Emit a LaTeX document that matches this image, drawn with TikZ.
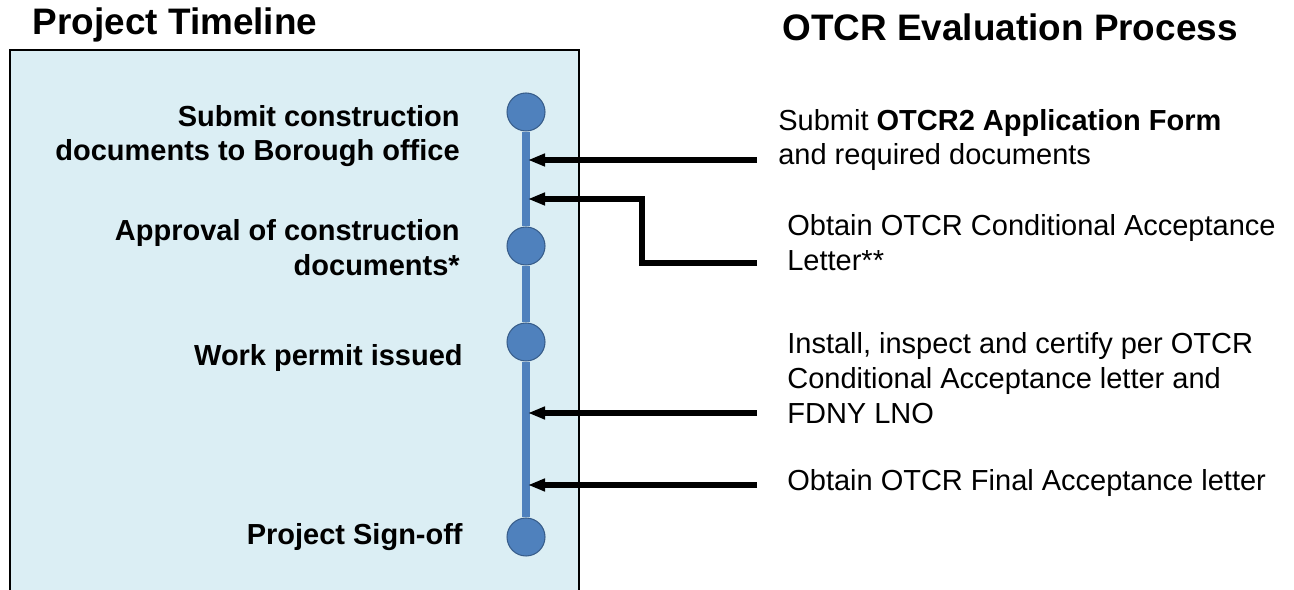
\documentclass[tikz,border=0pt]{standalone}
\usepackage{fontspec}
\setmainfont{Liberation Sans}
\usetikzlibrary{arrows.meta, positioning}
\definecolor{panelblue}{RGB}{219, 238, 244}
\definecolor{lineblue}{RGB}{79, 129, 189}
\definecolor{darkblue}{RGB}{56, 93, 138}

\begin{document}
\begin{tikzpicture}[
    x=0.02cm, y=-0.02cm,
    title/.style={font=\fontsize{21}{25}\selectfont\bfseries, inner sep=0pt},
    milestone/.style={font=\fontsize{16.5}{19.8}\selectfont\bfseries, align=right,
                anchor=east, inner sep=0pt},
    stagetext/.style={font=\fontsize{16.5}{19.8}\selectfont, align=left,
                anchor=west, inner sep=0pt},
    dot/.style={circle, fill=lineblue, draw=darkblue, line width=0.6pt,
                minimum size=0.76cm, inner sep=0pt},
    spine/.style={lineblue, line width=4.5pt},
    arrow/.style={-{Triangle[length=3.4mm, width=2.4mm]}, line width=3.3pt, black}
]
\useasboundingbox (0,0) rectangle (1294,590);

% timeline panel
\fill[panelblue] (10,50) rectangle (579,590);
\draw[line width=1.1pt] (10,590) -- (10,50) -- (579,50) -- (579,590);

\node[title] (lefttitle) at (175,25) {Project Timeline};
\node[title] (righttitle) at (1010,27) {OTCR Evaluation Process};

% milestones
\node[dot] (dsubmit) at (526,112) {};
\node[dot] (dapproval) at (526,246) {};
\node[dot] (dpermit) at (526,342) {};
\node[dot] (dsignoff) at (526,537) {};
\draw[spine] (dsubmit) -- (dapproval);
\draw[spine] (dapproval) -- (dpermit);
\draw[spine] (dpermit) -- (dsignoff);

\node[milestone] (submit) at (460,136) {Submit construction\\documents to Borough office};
\node[milestone] (approval) at (460,248) {Approval of construction\\documents*};
\node[milestone] (permit) at (463,358) {Work permit issued};
\node[milestone] (signoff) at (463,537) {Project Sign-off};

% OTCR steps
\node[stagetext] (form) at (778,140) {Submit \textbf{OTCR2 Application Form}\\and required documents};
\node[stagetext] (condacc) at (787,243) {Obtain OTCR Conditional Acceptance\\Letter**};
\node[stagetext] (install) at (787,378) {Install, inspect and certify per OTCR\\Conditional Acceptance letter and\\FDNY LNO};
\node[stagetext] (finalacc) at (787,483) {Obtain OTCR Final Acceptance letter};

\coordinate (s1) at (757,160);
\coordinate (s2) at (757,263);
\coordinate (s3) at (757,413);
\coordinate (s4) at (757,485);
\coordinate (t1) at (528,160);
\coordinate (t2) at (528,199);
\coordinate (t3) at (528,413);
\coordinate (t4) at (528,485);

\draw[arrow] (s1) -- (t1);
\draw[arrow] (s2) -- ++(-115,0) |- (t2);
\draw[arrow] (s3) -- (t3);
\draw[arrow] (s4) -- (t4);
\end{tikzpicture}
\end{document}
